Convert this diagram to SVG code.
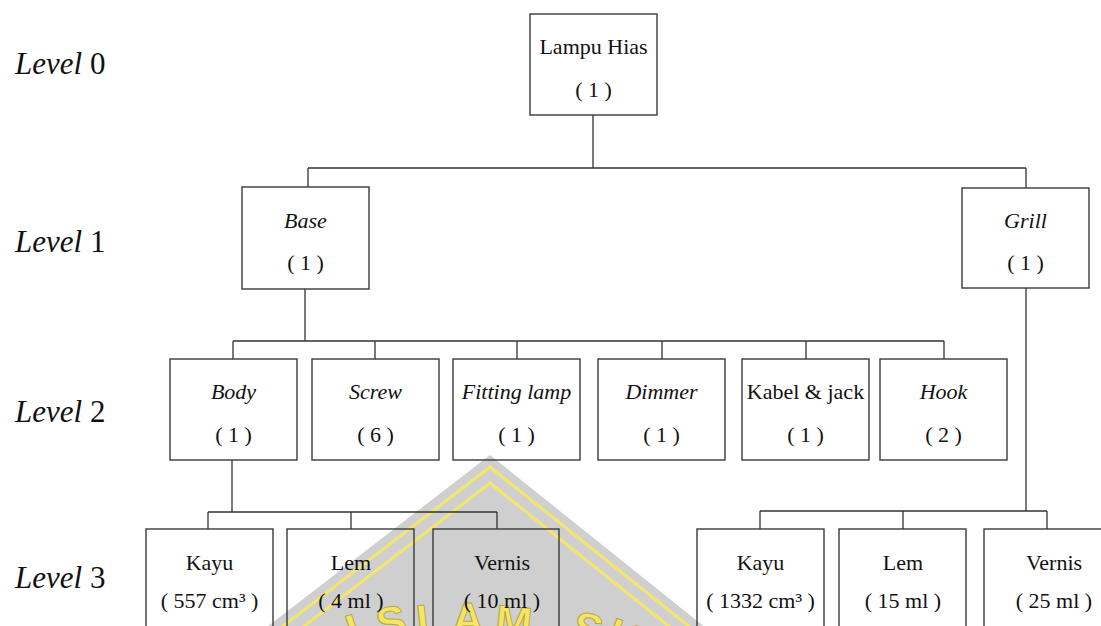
<svg xmlns="http://www.w3.org/2000/svg" width="1101" height="626" viewBox="0 0 1101 626">
<style>
.box{fill:none;stroke:#3a3a3a;stroke-width:1.4}
.con{fill:none;stroke:#333;stroke-width:1.3}
.t{font-family:"Liberation Serif","Times New Roman",serif;font-size:22px;fill:#111;text-anchor:middle}
.i{font-style:italic}
.lv{font-family:"Liberation Serif","Times New Roman",serif;font-size:31px;fill:#111}
.wm{fill:none;stroke:#f3e66a;stroke-width:3}
</style>
<rect x="0" y="0" width="1101" height="626" fill="#fff"/>
<g id="watermark">
<polygon points="490,455 250,640 721,640" fill="#cfcfcf"/>
<polyline class="wm" points="265,640 490,467 706,640"/>
<polyline class="wm" points="286,640 490,483 686,640"/>
<text font-family="Liberation Sans,Arial,sans-serif" font-weight="bold" font-size="44" fill="#f4e664" stroke="#b9a743" stroke-width="1" x="352 380 418 452 494 570 604" y="646 640 636 634 635 640 646" rotate="-18 -12 -6 0 6 14 20">ISLAMSU</text>
</g>
<g id="levels">
<text class="lv" x="15" y="74"><tspan font-style="italic">Level</tspan> 0</text>
<text class="lv" x="15" y="252"><tspan font-style="italic">Level</tspan> 1</text>
<text class="lv" x="15" y="422"><tspan font-style="italic">Level</tspan> 2</text>
<text class="lv" x="15" y="588"><tspan font-style="italic">Level</tspan> 3</text>
</g>
<g id="connectors">
<path class="con" d="M593,115V168M308,168H1026M308,168V187M1026,168V188"/>
<path class="con" d="M305,289V341M233,341H944M233,341V359M375,341V359M517,341V359M662,341V359M806,341V359M944,341V359"/>
<path class="con" d="M1026,288V511M760,511H1047M760,511V529M903,511V529M1047,511V529"/>
<path class="con" d="M232,460V512M208,512H497M208,512V529M351,512V529M497,512V529"/>
</g>
<g id="n-lampu"><rect class="box" x="530" y="14" width="127" height="101"/>
<text class="t" x="593.5" y="54">Lampu Hias</text>
<text class="t" x="593.5" y="97">( 1 )</text></g>
<g id="n-base"><rect class="box" x="242" y="187" width="127" height="102"/>
<text class="t i" x="305.5" y="228">Base</text>
<text class="t" x="305.5" y="270">( 1 )</text></g>
<g id="n-grill"><rect class="box" x="962" y="188" width="127" height="100"/>
<text class="t i" x="1025.5" y="228">Grill</text>
<text class="t" x="1025.5" y="270">( 1 )</text></g>
<g id="n-body"><rect class="box" x="170" y="359" width="127" height="101"/>
<text class="t i" x="233.5" y="399">Body</text>
<text class="t" x="233.5" y="442">( 1 )</text></g>
<g id="n-screw"><rect class="box" x="312" y="359" width="127" height="101"/>
<text class="t i" x="375.5" y="399">Screw</text>
<text class="t" x="375.5" y="442">( 6 )</text></g>
<g id="n-fitting"><rect class="box" x="453" y="359" width="127" height="101"/>
<text class="t i" x="516.5" y="399">Fitting lamp</text>
<text class="t" x="516.5" y="442">( 1 )</text></g>
<g id="n-dimmer"><rect class="box" x="598" y="359" width="127" height="101"/>
<text class="t i" x="661.5" y="399">Dimmer</text>
<text class="t" x="661.5" y="442">( 1 )</text></g>
<g id="n-kabel"><rect class="box" x="742" y="359" width="127" height="101"/>
<text class="t" x="805.5" y="399">Kabel &amp; jack</text>
<text class="t" x="805.5" y="442">( 1 )</text></g>
<g id="n-hook"><rect class="box" x="880" y="359" width="127" height="101"/>
<text class="t i" x="943.5" y="399">Hook</text>
<text class="t" x="943.5" y="442">( 2 )</text></g>
<g id="n-kayu1"><rect class="box" x="146" y="529" width="127" height="120"/>
<text class="t" x="209.5" y="570">Kayu</text>
<text class="t" x="209.5" y="608">( 557 cm³ )</text></g>
<g id="n-lem1"><rect class="box" x="287" y="529" width="127" height="120"/>
<text class="t" x="351" y="570">Lem</text>
<text class="t" x="351" y="608">( 4 ml )</text></g>
<g id="n-vernis1"><rect class="box" x="433" y="529" width="126" height="120"/>
<text class="t" x="502" y="570">Vernis</text>
<text class="t" x="502" y="608">( 10 ml )</text></g>
<g id="n-kayu2"><rect class="box" x="697" y="529" width="127" height="120"/>
<text class="t" x="760.5" y="570">Kayu</text>
<text class="t" x="760.5" y="608">( 1332 cm³ )</text></g>
<g id="n-lem2"><rect class="box" x="839" y="529" width="127" height="120"/>
<text class="t" x="903" y="570">Lem</text>
<text class="t" x="903" y="608">( 15 ml )</text></g>
<g id="n-vernis2"><rect class="box" x="984" y="529" width="127" height="120"/>
<text class="t" x="1054" y="570">Vernis</text>
<text class="t" x="1054" y="608">( 25 ml )</text></g>
</svg>
